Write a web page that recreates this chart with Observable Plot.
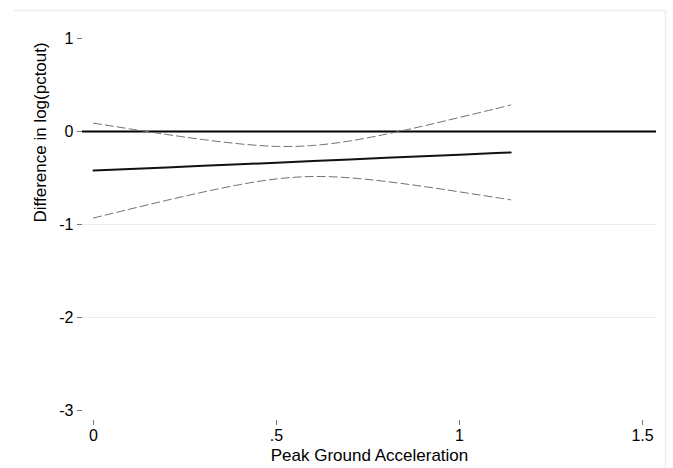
<!DOCTYPE html>
<html>
<head>
<meta charset="utf-8">
<script src="https://cdn.jsdelivr.net/npm/d3@7"></script>
<script src="https://cdn.jsdelivr.net/npm/@observablehq/plot@0.6"></script>
<style>
  html, body { margin: 0; padding: 0; background: #fff; }
  #chart svg { display: block; font-family: "Liberation Sans", Arial, sans-serif; }
</style>
</head>
<body>
<div id="chart"></div>
<script>
// Peak ground acceleration grid where the fit and its confidence band are evaluated
const pga = [0, 0.1, 0.2, 0.3, 0.4, 0.5, 0.6, 0.7, 0.8, 0.9, 1.0, 1.1, 1.14];
// Linear fit of the difference in log(pctout)
const fitted = [-0.420, -0.403, -0.386, -0.369, -0.352, -0.335, -0.317, -0.300, -0.283, -0.266, -0.249, -0.232, -0.225];
// Upper and lower confidence bounds
const upper = [0.090, 0.028, -0.032, -0.087, -0.133, -0.160, -0.150, -0.102, -0.028, 0.058, 0.151, 0.246, 0.285];
const lower = [-0.930, -0.834, -0.740, -0.651, -0.571, -0.510, -0.484, -0.498, -0.538, -0.590, -0.649, -0.710, -0.735];

const xTicks = [0, 0.5, 1, 1.5];
const yTicks = [-3, -2, -1, 0, 1];
const gridValues = [-2, -1, 0];
const refValue = [0];

const rows = pga.map((x, i) => ({x, fit: fitted[i], hi: upper[i], lo: lower[i]}));
const fmtX = d => d === 0 ? "0" : String(d).replace(/^0\./, ".");

const W = 673, H = 468;
const chart = Plot.plot({
  width: W,
  height: H,
  marginLeft: 82,
  marginRight: 17,
  marginTop: 30,
  marginBottom: 48,
  style: {fontSize: "16px", fontFamily: "'Liberation Sans', Arial, sans-serif", color: "#000", background: "#fff"},
  x: {domain: [0, 1.5], insetLeft: 11, insetRight: 14},
  y: {domain: [-3, 1], insetTop: 8, insetBottom: 10},
  marks: [
    Plot.ruleY(gridValues, {stroke: "#e6eef1", strokeWidth: 1}),
    Plot.ruleY(refValue, {stroke: "#000", strokeWidth: 2}),
    Plot.line(rows, {x: "x", y: "hi", curve: "natural", stroke: "#707070", strokeWidth: 1, strokeDasharray: "8,4"}),
    Plot.line(rows, {x: "x", y: "lo", curve: "natural", stroke: "#707070", strokeWidth: 1, strokeDasharray: "8,4"}),
    Plot.line(rows, {x: "x", y: "fit", stroke: "#111", strokeWidth: 2}),
    Plot.axisY({ticks: yTicks, tickSize: 5, tickPadding: 4, stroke: "#777", fill: "#000", fontSize: 16, label: null, tickFormat: d => String(d)}),
    Plot.axisX({ticks: xTicks, tickSize: 5, tickPadding: 4, stroke: "#777", fill: "#000", fontSize: 16, label: null, tickFormat: fmtX}),
    Plot.text(["Peak Ground Acceleration"], {frameAnchor: "bottom", dy: 35, lineAnchor: "middle", fontSize: 17, fill: "#000"}),
    Plot.text(["Difference in log(pctout)"], {frameAnchor: "left", dx: -42, dy: -3, rotate: -90, lineAnchor: "middle", fontSize: 17, fill: "#000"})
  ]
});

// light outer border of the graph region
d3.select(chart).append("path")
  .attr("d", `M14,10.5H665.5V${H}`)
  .attr("fill", "none")
  .attr("stroke", "#eaeff2")
  .attr("stroke-width", 1.5);

document.getElementById("chart").appendChild(chart);
</script>
</body>
</html>
